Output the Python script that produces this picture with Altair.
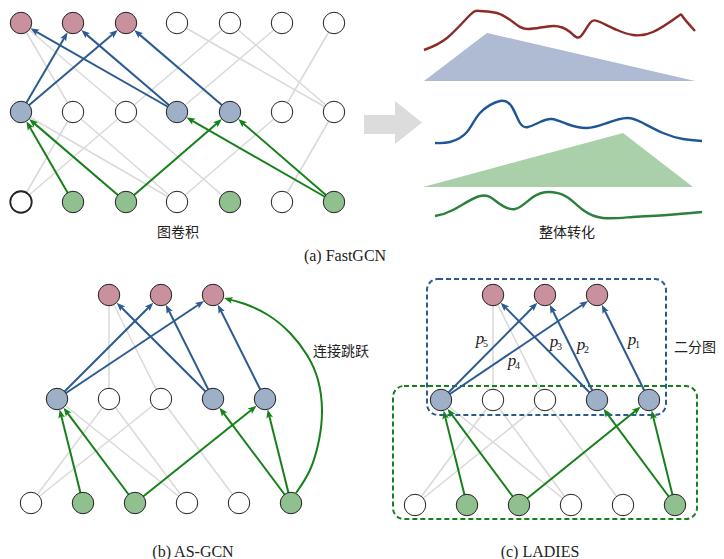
import math
import altair as alt
import pandas as pd

# ---------------- layout / data ----------------
R = 10.8          # node radius (px)
NODE_SIZE = 460
HEAD_SIZE = 90    # arrow head symbol size
HEAD_H = math.sqrt(HEAD_SIZE) / 2

PINK, BLUEN, GREENN, WHITE = "#c8919d", "#9eafc8", "#90c090", "#ffffff"
FILL = {"P": PINK, "B": BLUEN, "G": GREENN, "W": WHITE}
GRAY = "#dadada"
BLUE = "#2d5b90"
GREEN = "#16801a"

# panel (a)
a_cols = {"T": [21, 73, 126, 177, 230, 282, 334],
          "M": [21, 73, 126, 177, 230, 282, 334],
          "B": [21, 73, 126, 177, 230, 282, 334]}
a_rows = {"T": 23, "M": 112, "B": 202}
a_fill = {"T": "PPPWWWW", "M": "BWWBBWW", "B": "WGGWGWG"}
# panel (b)
b_cols = {"T": [109, 161, 213], "M": [57, 109, 161, 213, 265],
          "B": [31, 83, 135, 187, 239, 291]}
b_rows = {"T": 295, "M": 399, "B": 503}
b_fill = {"T": "PPP", "M": "BWWBB", "B": "WGGWWG"}
# panel (c)
c_cols = {"T": [493, 545, 597], "M": [441, 493, 545, 597, 649],
          "B": [415, 467, 519, 571, 623, 675]}
c_rows = {"T": 295, "M": 400, "B": 505}
c_fill = {"T": "PPP", "M": "BWWBB", "B": "WGGWWG"}

gray_a = [("T0", "M1"), ("T0", "M2"), ("T4", "M2"), ("T5", "M3"), ("T3", "M6"),
          ("T4", "M6"), ("T6", "M5"), ("B0", "M1"), ("B0", "M2"), ("M0", "B3"),
          ("M1", "B3"), ("M2", "B4"), ("B3", "M5"), ("B5", "M6")]
blue_a = [("M0", "T1"), ("M0", "T2"), ("M3", "T0"), ("M3", "T1"), ("M4", "T2")]
green_a = [("B1", "M0"), ("B2", "M0"), ("B2", "M4"), ("B6", "M3"), ("B6", "M4")]

gray_bc = [("T0", "M1"), ("T0", "M2"), ("M1", "B0"), ("M2", "B0"), ("M0", "B3"),
           ("M1", "B3"), ("M2", "B4")]
blue_bc = [("M0", "T1"), ("M0", "T2"), ("M3", "T0"), ("M3", "T1"), ("M4", "T2")]
green_bc = [("B1", "M0"), ("B2", "M0"), ("B2", "M4"), ("B5", "M3"), ("B5", "M4")]

# skip connection curve in (b)
skip_x = [296, 310, 319, 322, 318, 307, 290, 268, 245, 224]
skip_y = [493, 470, 440, 410, 380, 355, 333, 315, 304, 298]

# right part of (a): wavy curves
red_x = [424, 447, 470, 480, 497, 513, 528, 553, 570, 580, 590, 600, 617, 633, 653, 677, 683, 695]
red_y = [50, 38, 15, 11, 13, 22, 29, 26, 32, 37, 23, 22, 30, 35, 32, 17, 17, 31]
blu_x = [435, 450, 467, 480, 500, 512, 520, 528, 540, 552, 567, 587, 607, 627, 643, 663, 683, 702]
blu_y = [143, 142, 132, 113, 101, 107, 123, 127, 122, 119, 124, 128, 123, 118, 123, 133, 139, 141]
grn_x = [435, 453, 480, 497, 515, 533, 550, 567, 583, 603, 633, 667, 702]
grn_y = [216, 210, 196, 202, 209, 197, 192, 197, 210, 218, 217, 215, 212]

tri_blue_x = [424, 487, 695]
tri_blue_y = [81, 33, 81]
tri_green_x = [423, 623, 693]
tri_green_y = [187, 133, 187]

# ---------------- build tables ----------------
def panel_nodes(cols, rows, fills):
    d = {}
    for r in ("T", "M", "B"):
        for i, x in enumerate(cols[r]):
            d[f"{r}{i}"] = (x, rows[r], FILL[fills[r][i]])
    return d

A = panel_nodes(a_cols, a_rows, a_fill)
B = panel_nodes(b_cols, b_rows, b_fill)
C = panel_nodes(c_cols, c_rows, c_fill)

node_rows = []
for name, P in (("a", A), ("b", B), ("c", C)):
    for k, (x, y, f) in P.items():
        sw = 1.8 if (name == "a" and k == "B0") else 1.0
        node_rows.append({"x": x, "y": y, "fill": f, "sw": sw})
nodes_df = pd.DataFrame(node_rows)

gray_rows, shaft_rows, head_rows = [], [], []


def add_gray(P, edges):
    for s, t in edges:
        gray_rows.append({"x": P[s][0], "y": P[s][1], "x2": P[t][0], "y2": P[t][1]})


def add_arrow(P, edges, color):
    for s, t in edges:
        sx, sy = P[s][0], P[s][1]
        tx, ty = P[t][0], P[t][1]
        dx, dy = tx - sx, ty - sy
        L = math.hypot(dx, dy)
        ux, uy = dx / L, dy / L
        tipx, tipy = tx - ux * R, ty - uy * R
        shaft_rows.append({"x": sx, "y": sy, "x2": tipx - ux * 4, "y2": tipy - uy * 4, "c": color})
        ang = math.degrees(math.atan2(ux, -uy)) % 360
        head_rows.append({"x": tipx - ux * HEAD_H, "y": tipy - uy * HEAD_H, "ang": ang, "c": color})


add_gray(A, gray_a)
add_gray(B, gray_bc)
add_gray(C, gray_bc)
add_arrow(A, blue_a, BLUE)
add_arrow(A, green_a, GREEN)
add_arrow(B, blue_bc, BLUE)
add_arrow(B, green_bc, GREEN)
add_arrow(C, blue_bc, BLUE)
add_arrow(C, green_bc, GREEN)

# skip curve head
ex, ey = skip_x[-1], skip_y[-1]
px, py = skip_x[-2], skip_y[-2]
L = math.hypot(ex - px, ey - py)
ux, uy = (ex - px) / L, (ey - py) / L
head_rows.append({"x": ex - ux * HEAD_H, "y": ey - uy * HEAD_H,
                  "ang": math.degrees(math.atan2(ux, -uy)) % 360, "c": GREEN})
skip_df = pd.DataFrame({"x": skip_x[:-1] + [ex - ux * 4], "y": skip_y[:-1] + [ey - uy * 4],
                        "seq": list(range(len(skip_x)))})

gray_df = pd.DataFrame(gray_rows)
shaft_df = pd.DataFrame(shaft_rows)
head_df = pd.DataFrame(head_rows)

curves = []
for cid, xs_, ys_, col in (("red", red_x, red_y, "#8e2a26"), ("blue", blu_x, blu_y, "#1f5794"),
                           ("green", grn_x, grn_y, "#2b803b")):
    for i, (x, y) in enumerate(zip(xs_, ys_)):
        curves.append({"cid": cid, "x": x, "y": y, "seq": i, "c": col})
curves_df = pd.DataFrame(curves)

tri = []
for tid, xs_, ys_, col in (("tb", tri_blue_x, tri_blue_y, "#aebbd2"),
                           ("tg", tri_green_x, tri_green_y, "#a9d0a9")):
    for x, y in zip(xs_, ys_):
        tri.append({"tid": tid, "x": x, "y": y, "y2": ys_[0], "c": col})
tri_df = pd.DataFrame(tri)

boxes_df = pd.DataFrame({"x": [427, 393], "x2": [666, 697], "y": [279, 386], "y2": [415, 519],
                         "c": [BLUE, GREEN]})

big_shaft = pd.DataFrame({"x": [364], "x2": [396], "y": [115], "y2": [134]})
big_head = pd.DataFrame({"x": [395, 422], "y": [101, 122.5], "y2": [144, 122.5]})

labels_cn = pd.DataFrame({"x": [178, 567, 341], "y": [233, 233, 352],
                          "t": ["图卷积", "整体转化", "连接跳跃"]})
labels_cn_r = pd.DataFrame({"x": [716], "y": [348], "t": ["二分图"]})
labels_en = pd.DataFrame({"x": [345, 193, 540], "y": [256, 552, 552],
                          "t": ["(a) FastGCN", "(b) AS-GCN", "(c) LADIES"]})
p_df = pd.DataFrame({"x": [480, 512, 554, 581, 632], "y": [339, 361, 342, 345, 340],
                     "sub": ["5", "4", "3", "2", "1"]})

# ---------------- chart ----------------
XS = alt.Scale(domain=[8, 716], zero=False, nice=False)
YS = alt.Scale(domain=[8, 559], zero=False, nice=False, reverse=True)


def X(f="x"):
    return alt.X(f"{f}:Q", scale=XS, axis=None)


def Y(f="y"):
    return alt.Y(f"{f}:Q", scale=YS, axis=None)


big_arrow = alt.Chart(big_shaft).mark_rect(color="#dcdcdc").encode(
    x=X(), x2="x2:Q", y=Y(), y2="y2:Q") + \
    alt.Chart(big_head).mark_area(color="#dcdcdc", opacity=1).encode(x=X(), y=Y(), y2="y2:Q")

tri_layer = alt.Chart(tri_df).mark_area(opacity=1, interpolate="linear").encode(
    x=X(), y=Y(), y2="y2:Q", detail="tid:N", color=alt.Color("c:N", scale=None))

curve_layer = alt.Chart(curves_df).mark_line(strokeWidth=2.4, interpolate="natural").encode(
    x=X(), y=Y(), detail="cid:N", order="seq:Q", color=alt.Color("c:N", scale=None))

gray_layer = alt.Chart(gray_df).mark_rule(color=GRAY, strokeWidth=1.6).encode(
    x=X(), y=Y(), x2="x2:Q", y2="y2:Q")

box_layer = alt.Chart(boxes_df).mark_rect(fillOpacity=0, strokeWidth=2, strokeDash=[5, 3],
                                           cornerRadius=11).encode(
    x=X(), x2="x2:Q", y=Y(), y2="y2:Q", stroke=alt.Stroke("c:N", scale=None))

shaft_layer = alt.Chart(shaft_df).mark_rule(strokeWidth=2).encode(
    x=X(), y=Y(), x2="x2:Q", y2="y2:Q", color=alt.Color("c:N", scale=None))

skip_layer = alt.Chart(skip_df).mark_line(strokeWidth=2, color=GREEN, interpolate="natural").encode(
    x=X(), y=Y(), order="seq:Q")

head_layer = alt.Chart(head_df).mark_point(
    shape="M0,-1L0.72,0.85L0,0.42L-0.72,0.85Z", filled=True, opacity=1, strokeWidth=0).encode(
    x=X(), y=Y(), angle=alt.Angle("ang:Q", scale=None), color=alt.Color("c:N", scale=None),
    size=alt.value(HEAD_SIZE))

node_layer = alt.Chart(nodes_df).mark_point(shape="circle", filled=True, opacity=1,
                                            stroke="#222222").encode(
    x=X(), y=Y(), fill=alt.Fill("fill:N", scale=None),
    strokeWidth=alt.StrokeWidth("sw:Q", scale=None), size=alt.value(NODE_SIZE))

cn_layer = alt.Chart(labels_cn).mark_text(font="Noto Sans CJK SC", fontSize=14, color="#222222",
                                          align="center", baseline="middle").encode(
    x=X(), y=Y(), text="t:N")
cn_r_layer = alt.Chart(labels_cn_r).mark_text(font="Noto Sans CJK SC", fontSize=14, color="#222222",
                                              align="right", baseline="middle").encode(
    x=X(), y=Y(), text="t:N")
en_layer = alt.Chart(labels_en).mark_text(font="Liberation Serif", fontSize=16, color="#222222",
                                          align="center", baseline="middle").encode(
    x=X(), y=Y(), text="t:N")
p_layer = alt.Chart(p_df).mark_text(font="Liberation Serif", fontStyle="italic", fontSize=17,
                                    color="#222222", align="center", baseline="middle").encode(
    x=X(), y=Y(), text=alt.value("p"))
sub_layer = alt.Chart(p_df).mark_text(font="Liberation Serif", fontSize=10, color="#222222",
                                      align="left", baseline="middle", dx=3, dy=5).encode(
    x=X(), y=Y(), text="sub:N")

chart = alt.layer(
    big_arrow, tri_layer, curve_layer, gray_layer, box_layer, shaft_layer, skip_layer,
    head_layer, node_layer, cn_layer, cn_r_layer, en_layer, p_layer, sub_layer
).properties(width=708, height=551, padding=0, autosize="none"
             ).configure_view(stroke=None)

chart.save("out.html", embed_options={"renderer": "svg", "actions": False})
